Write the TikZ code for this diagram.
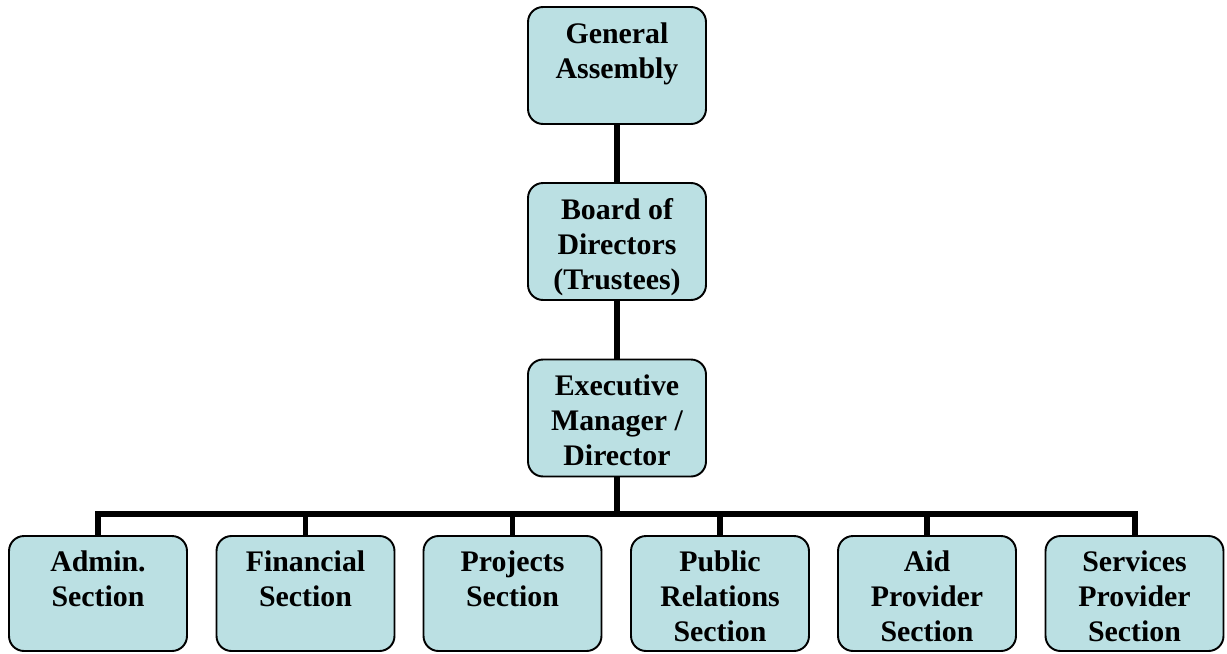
\documentclass[tikz,border=0pt]{standalone}
\usepackage{fontspec}
\setmainfont{Liberation Serif}
\usetikzlibrary{positioning}
\definecolor{boxfill}{RGB}{187,224,227}
\newcommand\hilift{\rule{0pt}{18.3pt}}
\newcommand\lodrop{\rule[-4pt]{0pt}{4pt}}

\begin{document}
\begin{tikzpicture}[x=0.02cm,y=-0.02cm,
  unit/.style={draw=black,line width=1.1pt,fill=boxfill,rounded corners=0.3cm,
    minimum width=3.56cm,minimum height=2.34cm,align=center,inner sep=0pt,
    font=\fontsize{17}{19.9}\selectfont\bfseries},
  section/.style={unit,minimum height=2.3cm},
  link/.style={line width=3.4pt}]
\useasboundingbox (0,0) rectangle (1227,653);
% top of the chart
\node[unit] (assembly) at (617,65.5) {\hilift General\\Assembly\\\lodrop};
\node[unit] (board) at (617,241.5) {\hilift Board of\\Directors\\(Trustees)\lodrop};
\node[unit] (exec) at (617,418) {\hilift Executive\\Manager /\\Director\lodrop};
\coordinate (bus) at (617,514);

% sections
\node[section] (admin) at (98,593.5) {\hilift Admin.\\Section\\\lodrop};
\node[section] (finance) at (305.5,593.5) {\hilift Financial\\Section\\\lodrop};
\node[section] (projects) at (512.5,593.5) {\hilift Projects\\Section\\\lodrop};
\node[section] (relations) at (720,593.5) {\hilift Public\\Relations\\Section\lodrop};
\node[section] (aid) at (927,593.5) {\hilift Aid\\Provider\\Section\lodrop};
\node[section] (services) at (1134.5,593.5) {\hilift Services\\Provider\\Section\lodrop};

\draw[link] (assembly) -- (board);
\draw[link] (board) -- (exec);
\draw[link] (exec) -- (bus);
\foreach \s in {admin,finance,projects,relations,aid,services}
  \draw[link] (bus) -| (\s.north);
\end{tikzpicture}
\end{document}
